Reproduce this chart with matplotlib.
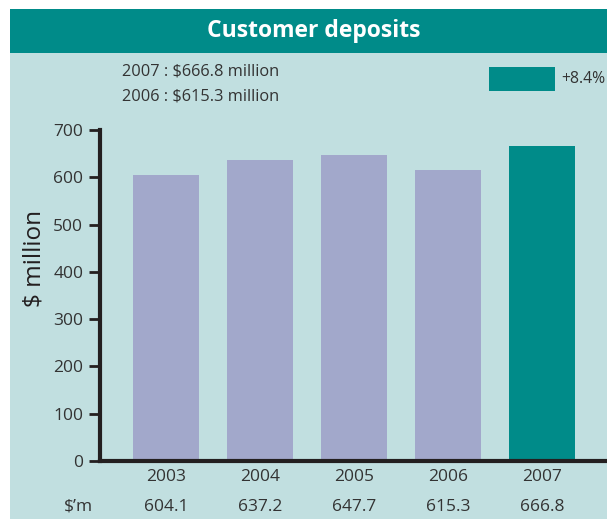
import matplotlib
matplotlib.use("Agg")
import matplotlib.pyplot as plt
from matplotlib.patches import Rectangle

years = ["2003", "2004", "2005", "2006", "2007"]
values = [604.1, 637.2, 647.7, 615.3, 666.8]
value_labels = ["604.1", "637.2", "647.7", "615.3", "666.8"]
yticks = [0, 100, 200, 300, 400, 500, 600, 700]
title = "Customer deposits"
note_lines = ["2007 : $666.8 million", "2006 : $615.3 million"]
legend_text = "+8.4%"
ylabel = "$ million"
row_label = "$\u2019m"

W, H = 607, 519
TEAL = "#008B89"
BG = "#C1DFE0"
LAV = "#A2A8CB"
DARK = "#231F20"
TXT = "#333333"

plt.rcParams['font.family'] = ['Open Sans', 'DejaVu Sans']

fig = plt.figure(figsize=(W / 100, H / 100), dpi=100)
fig.patch.set_facecolor("white")

def fx(x):
    return x / W

def fy(y):
    return 1 - y / H

# background panels
fig.patches.append(Rectangle((fx(10), fy(519)), fx(597), 467 / H, transform=fig.transFigure,
                             facecolor=BG, edgecolor="none", zorder=-10))
fig.patches.append(Rectangle((fx(10), fy(53)), fx(597), 44 / H, transform=fig.transFigure,
                             facecolor=TEAL, edgecolor="none", zorder=-10))
fig.text(fx(314), fy(31), title, color="white", fontsize=16.5, fontweight="bold",
         ha="center", va="center")

for i, line in enumerate(note_lines):
    fig.text(fx(122), fy(72 + 24 * i), line, color=TXT, fontsize=11.8, ha="left", va="center")

fig.patches.append(Rectangle((fx(489), fy(91)), fx(66), 24 / H, transform=fig.transFigure,
                             facecolor=TEAL, edgecolor="none", zorder=-5))
fig.text(fx(561), fy(79), legend_text, color=TXT, fontsize=11.3, ha="left", va="center")

# axes
x0, x1 = 100, 605
y_top, y_bot = 130, 461
ax = fig.add_axes([fx(x0), fy(y_bot), fx(x1 - x0), (y_bot - y_top) / H])
ax.set_facecolor("none")
xs = list(range(len(years)))
colors = [LAV] * (len(years) - 1) + [TEAL]
ax.bar(xs, values, width=0.702, color=colors, zorder=2)
ax.set_ylim(0, 700)
ax.set_xlim(-0.702, (x1 - 166) / 94)
ax.set_yticks(yticks)
ax.set_yticklabels([str(t) for t in yticks], fontsize=12.5, color=TXT)
ax.tick_params(axis="y", direction="out", length=8, width=2, color=DARK, pad=4)
ax.set_xticks(xs)
ax.set_xticklabels(years, fontsize=12.5, color=TXT)
ax.tick_params(axis="x", length=0, pad=6)
for s in ["top", "right"]:
    ax.spines[s].set_visible(False)
for s in ["left", "bottom"]:
    ax.spines[s].set_linewidth(3)
    ax.spines[s].set_color(DARK)
    ax.spines[s].set_capstyle("projecting")
fig.text(fx(35), fy(258), ylabel, fontsize=17.5, color=DARK, rotation=90,
         ha="center", va="center")

# value row
for x, lab in zip(xs, value_labels):
    fig.text(fx(166 + 94 * x), fy(507), lab, fontsize=12.5, color=TXT, ha="center", va="center")
fig.text(fx(93), fy(507), row_label, fontsize=12.5, color=TXT, ha="right", va="center")

fig.savefig("out.png", dpi=100, facecolor="white")
